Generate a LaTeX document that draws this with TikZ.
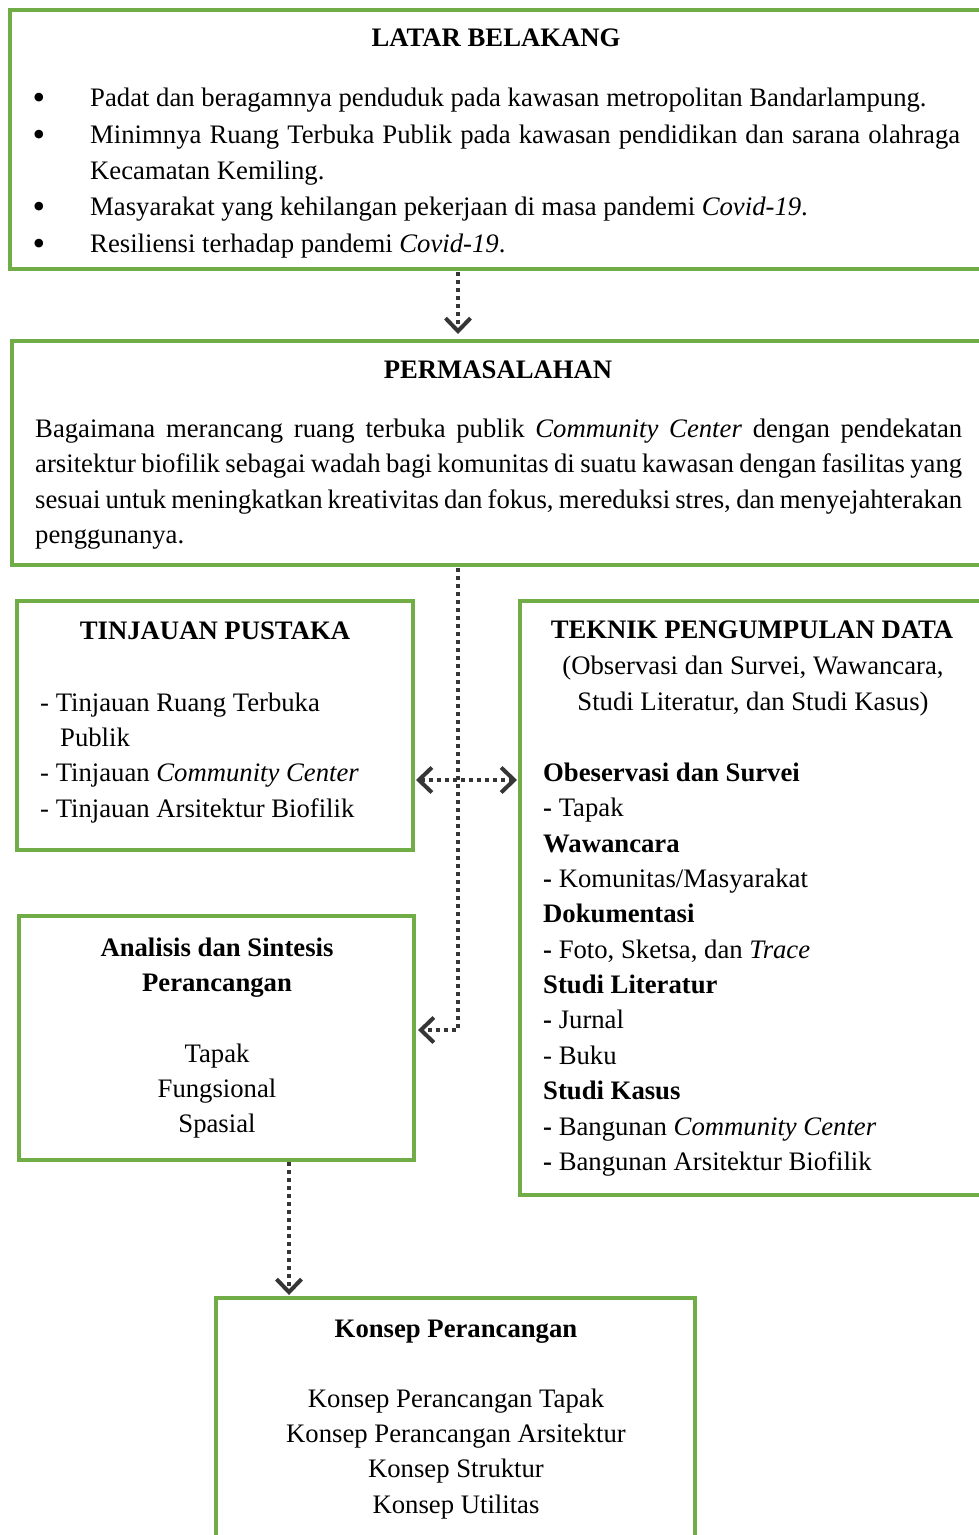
\documentclass[tikz,border=0pt]{standalone}
\usepackage{fontspec}
\setmainfont{Liberation Serif}
\usetikzlibrary{arrows.meta}
\definecolor{boxgreen}{HTML}{70AD47}
\definecolor{conncol}{HTML}{363636}
\newcommand{\bul}{\raisebox{-3pt}{\fontsize{36}{30}\selectfont\textbullet}}
\tikzset{
  box/.style={draw=boxgreen, line width=4.5pt, inner sep=0pt, outer sep=0pt, anchor=north west},
  txt/.style={inner sep=0pt, anchor=base west},
  ctxt/.style={inner sep=0pt, anchor=base},
  barb/.tip={Straight Barb[length=13pt,width=25pt,line width=4pt]},
  conn/.style={draw=conncol, line width=3.8pt, dash pattern=on 3.8pt off 4.2pt, -barb},
}
\begin{document}
\begin{tikzpicture}[x=1pt,y=-1pt,font=\fontsize{26.7}{30}\selectfont]
\useasboundingbox (0,0) rectangle (979,1535);
\clip (0,0) rectangle (979,1535);
% boxes
\node[box, minimum width=985pt, minimum height=259pt] (lb) at (10,10) {};
\node[box, minimum width=985pt, minimum height=224pt] (pm) at (12,341) {};
\node[box, minimum width=396pt, minimum height=249pt] (tp) at (17,601) {};
\node[box, minimum width=480pt, minimum height=594pt] (tpd) at (520,601) {};
\node[box, minimum width=395pt, minimum height=244pt] (as) at (19,916) {};
\node[box, minimum width=479pt, minimum height=260pt] (kp) at (216,1298) {};
\begin{scope}[yshift=-1.5pt]
% LATAR BELAKANG
\node[ctxt] (lbh) at (496,45) {\textbf{LATAR BELAKANG}};
\node[ctxt] (u1) at (39,105) {\bul};
\node[ctxt] (u2) at (39,141.5) {\bul};
\node[ctxt] (u3) at (39,214) {\bul};
\node[ctxt] (u4) at (39,250.5) {\bul};
\node[txt] (l1) at (90,105) {Padat dan beragamnya penduduk pada kawasan metropolitan Bandarlampung.};
\node[txt] (l2) at (90,141.5) {\makebox[870pt][s]{Minimnya Ruang Terbuka Publik pada kawasan pendidikan dan sarana olahraga}};
\node[txt] (l3) at (90,178) {Kecamatan Kemiling.};
\node[txt] (l4) at (90,214) {Masyarakat yang kehilangan pekerjaan di masa pandemi \textit{Covid-19}.};
\node[txt] (l5) at (90,250.5) {Resiliensi terhadap pandemi \textit{Covid-19}.};
% PERMASALAHAN
\node[ctxt] (pmh) at (498,377) {\textbf{PERMASALAHAN}};
\node[txt] (p1) at (35,436) {\makebox[927pt][s]{Bagaimana merancang ruang terbuka publik \textit{Community Center} dengan pendekatan}};
\node[txt] (p2) at (35,471) {\makebox[927pt][s]{arsitektur biofilik sebagai wadah bagi komunitas di suatu kawasan dengan fasilitas yang}};
\node[txt] (p3) at (35,506.5) {\makebox[927pt][s]{sesuai untuk meningkatkan kreativitas dan fokus, mereduksi stres, dan menyejahterakan}};
\node[txt] (p4) at (35,542) {penggunanya.};
% TINJAUAN PUSTAKA
\node[ctxt] (tph) at (215,637.5) {\textbf{TINJAUAN PUSTAKA}};
\node[txt] (t1) at (40,709.5) {- Tinjauan Ruang Terbuka};
\node[txt] (t2) at (60,744.5) {Publik};
\node[txt] (t3) at (40,780) {- Tinjauan \textit{Community Center}};
\node[txt] (t4) at (40,815.5) {- Tinjauan Arsitektur Biofilik};
% TEKNIK PENGUMPULAN DATA
\node[ctxt] (tdh) at (752,637) {\textbf{TEKNIK PENGUMPULAN DATA}};
\node[ctxt] (d0a) at (753,673) {(Observasi dan Survei, Wawancara,};
\node[ctxt] (d0b) at (753,709) {Studi Literatur, dan Studi Kasus)};
\node[txt] (d1) at (543,779.5) {\textbf{Obeservasi dan Survei}};
\node[txt] (d2) at (543,815) {\textbf{-} Tapak};
\node[txt] (d3) at (543,850.5) {\textbf{Wawancara}};
\node[txt] (d4) at (543,886) {\textbf{-} Komunitas/Masyarakat};
\node[txt] (d5) at (543,921) {\textbf{Dokumentasi}};
\node[txt] (d6) at (543,956.5) {\textbf{-} Foto, Sketsa, dan \textit{Trace}};
\node[txt] (d7) at (543,992) {\textbf{Studi Literatur}};
\node[txt] (d8) at (543,1027) {\textbf{-} Jurnal};
\node[txt] (d9) at (543,1062.5) {- Buku};
\node[txt] (d10) at (543,1098) {\textbf{Studi Kasus}};
\node[txt] (d11) at (543,1133.5) {\textbf{-} Bangunan \textit{Community Center}};
\node[txt] (d12) at (543,1169) {\textbf{-} Bangunan Arsitektur Biofilik};
% ANALISIS
\node[ctxt] (ash1) at (217,954.5) {\textbf{Analisis dan Sintesis}};
\node[ctxt] (ash2) at (217,989.5) {\textbf{Perancangan}};
\node[ctxt] (a1) at (217,1060.5) {Tapak};
\node[ctxt] (a2) at (217,1095.5) {Fungsional};
\node[ctxt] (a3) at (217,1130.5) {Spasial};
% KONSEP
\node[ctxt] (kph) at (456,1335.5) {\textbf{Konsep Perancangan}};
\node[ctxt] (k1) at (456,1405.5) {Konsep Perancangan Tapak};
\node[ctxt] (k2) at (456,1440.5) {Konsep Perancangan Arsitektur};
\node[ctxt] (k3) at (456,1475.5) {Konsep Struktur};
\node[ctxt] (k4) at (456,1511.5) {Konsep Utilitas};
\end{scope}
% connectors
\coordinate (xa) at (458,0);
\coordinate (xb) at (289,0);
\coordinate (ya) at (0,780);
\coordinate (yb) at (0,1030);
\draw[conn, shorten <=3pt, shorten >=7pt] (lb.south -| xa) -- (pm.north -| xa);
\draw[conn, barb-barb, shorten <=3pt, shorten >=3pt] (tp.east |- ya) -- (tpd.west |- ya);
\draw[conn, shorten <=3pt, shorten >=4pt] (pm.south -| xa) |- (as.east |- yb);
\draw[conn, shorten <=2pt, shorten >=3pt] (as.south -| xb) -- (kp.north -| xb);
\end{tikzpicture}
\end{document}
